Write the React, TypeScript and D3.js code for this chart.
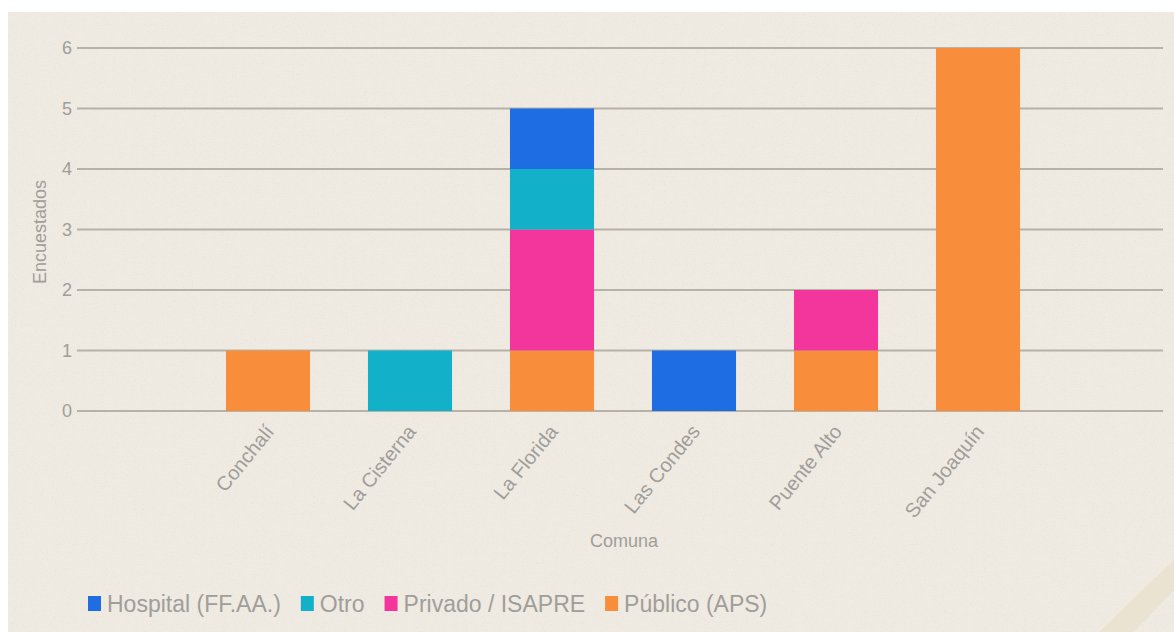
import React, { useEffect, useRef } from "react";
import * as d3 from "d3";

const categories = ["Conchalí", "La Cisterna", "La Florida", "Las Condes", "Puente Alto", "San Joaquín"];
const seriesNames = ["Hospital (FF.AA.)", "Otro", "Privado / ISAPRE", "Público (APS)"];
const seriesKeys = ["hospital", "otro", "privado", "publico"];
const hospital = [0, 0, 1, 1, 0, 0];
const otro = [0, 1, 1, 0, 0, 0];
const privado = [0, 0, 2, 0, 1, 0];
const publico = [1, 0, 1, 0, 1, 6];
const seriesColors = ["#1f6de3", "#13b1c9", "#f2369b", "#f88e3c"];
const yTicks = [0, 1, 2, 3, 4, 5, 6];
const yTitle = "Encuestados";
const xTitle = "Comuna";

const W = 1174;
const H = 632;

export default function App() {
  const ref = useRef<SVGSVGElement | null>(null);

  useEffect(() => {
    const svg = d3.select(ref.current);
    svg.selectAll("*").remove();

    const defs = svg.append("defs");
    const filt = defs.append("filter").attr("id", "paper").attr("x", 0).attr("y", 0).attr("width", "100%").attr("height", "100%");
    filt.append("feTurbulence").attr("type", "fractalNoise").attr("baseFrequency", 0.9).attr("numOctaves", 2).attr("seed", 3).attr("result", "noise");
    filt.append("feColorMatrix").attr("type", "matrix")
      .attr("values", "0 0 0 0 0.55  0 0 0 0 0.5  0 0 0 0 0.42  0 0 0 -1.6 0.75");

    svg.append("rect").attr("width", W).attr("height", H).attr("fill", "#ffffff");
    svg.append("rect").attr("x", 8).attr("y", 12).attr("width", W - 8).attr("height", H - 12).attr("fill", "#efeae2");
    svg.append("rect").attr("x", 8).attr("y", 12).attr("width", W - 8).attr("height", H - 12).attr("filter", "url(#paper)").attr("opacity", 0.25);
    // faint diagonal stroke bottom-right
    svg.append("path").attr("d", `M${W},560 L${W},590 L${W - 40},${H} L${W - 75},${H} Z`).attr("fill", "#e8dcc2").attr("opacity", 0.5);

    const left = 77, right = 1163, top = 48, bottom = 411;
    const y = d3.scaleLinear().domain([0, 6]).range([bottom, top]);
    const x = d3.scaleBand<string>().domain(categories).range([197, 1049]).paddingInner(0.408).paddingOuter(0.204);

    const font = "'Liberation Sans', Arial, sans-serif";
    const textColor = "#a09e9a";

    // gridlines
    svg.append("g").selectAll("line").data(yTicks).join("line")
      .attr("x1", left).attr("x2", right)
      .attr("y1", (d) => y(d)).attr("y2", (d) => y(d))
      .attr("stroke", "#b7b2a8").attr("stroke-width", 2);

    svg.append("g").selectAll("text").data(yTicks).join("text")
      .attr("x", 72).attr("y", (d) => y(d)).attr("dy", "0.35em")
      .attr("text-anchor", "end").attr("font-family", font).attr("font-size", 18)
      .attr("fill", textColor).text((d) => String(d));

    // stacked data
    const table = categories.map((c, i) => ({
      cat: c,
      hospital: hospital[i],
      otro: otro[i],
      privado: privado[i],
      publico: publico[i],
    }));
    const stackOrder = ["publico", "privado", "otro", "hospital"];
    const stacked = d3.stack<any>().keys(stackOrder)(table);
    const colorOf = (k: string) => seriesColors[seriesKeys.indexOf(k)];

    const gBars = svg.append("g");
    stacked.forEach((layer) => {
      gBars.append("g").attr("fill", colorOf(layer.key))
        .selectAll("rect").data(layer.filter((d) => d[1] - d[0] > 0)).join("rect")
        .attr("x", (d: any) => x(d.data.cat) as number)
        .attr("width", x.bandwidth())
        .attr("y", (d) => y(d[1]))
        .attr("height", (d) => y(d[0]) - y(d[1]));
    });

    // x labels
    svg.append("g").selectAll("text").data(categories).join("text")
      .attr("transform", (d) => `translate(${(x(d) as number) + x.bandwidth() / 2 + 7},${432}) rotate(-51)`)
      .attr("text-anchor", "end").attr("font-family", font).attr("font-size", 20)
      .attr("fill", textColor).text((d) => d);

    svg.append("text").attr("x", (left + right) / 2 + 4).attr("y", 547)
      .attr("text-anchor", "middle").attr("font-family", font).attr("font-size", 18)
      .attr("fill", textColor).text(xTitle);

    svg.append("text").attr("transform", `translate(46,232) rotate(-90)`)
      .attr("text-anchor", "middle").attr("font-family", font).attr("font-size", 18)
      .attr("fill", textColor).text(yTitle);

    // legend
    const lg = svg.append("g").attr("transform", "translate(88,603)");
    let cx = 0;
    seriesNames.forEach((name, i) => {
      const item = lg.append("g").attr("transform", `translate(${cx},0)`);
      item.append("rect").attr("x", 0).attr("y", -7).attr("width", 13).attr("height", 15).attr("fill", seriesColors[i]);
      const t = item.append("text").attr("x", 19).attr("y", 1).attr("dy", "0.35em")
        .attr("font-family", font).attr("font-size", 23).attr("fill", textColor).text(name);
      const w = (t.node() as SVGTextElement).getComputedTextLength();
      cx += 19 + w + 20;
    });
  }, []);

  return (
    <svg
      ref={ref}
      width={W}
      height={H}
      style={{ position: "absolute", left: 0, top: 0, display: "block" }}
    />
  );
}
